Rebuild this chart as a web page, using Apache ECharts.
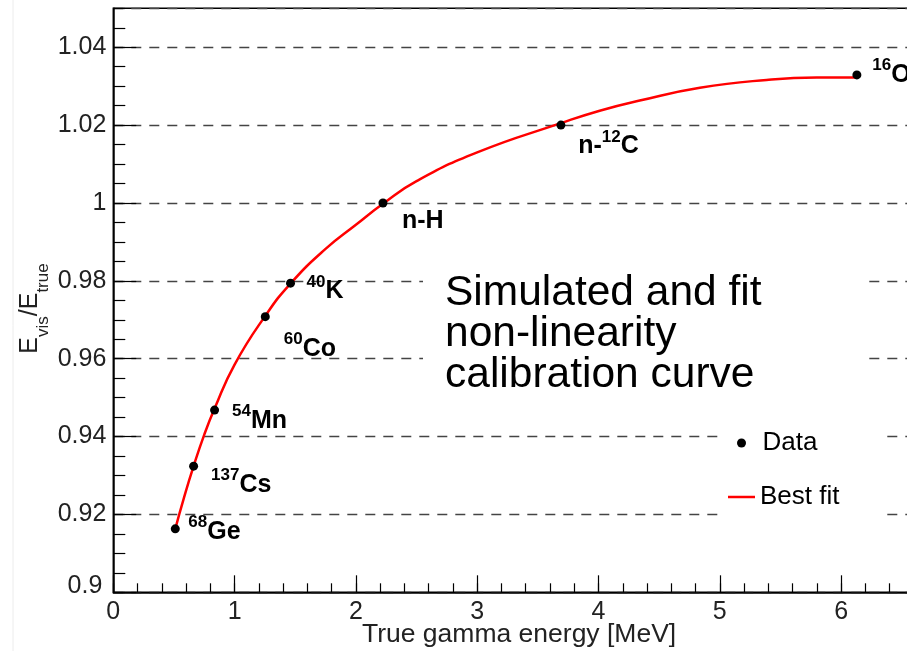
<!DOCTYPE html>
<html><head><meta charset="utf-8">
<script src="https://cdn.jsdelivr.net/npm/echarts@6/dist/echarts.min.js"></script>
<style>html,body{margin:0;padding:0;background:#fff}#c{width:907px;height:651px}</style>
</head><body><div id="c"></div>
<script>
// ---- data ----
const pointLabels = ['{s|68}{b|Ge}','{s|137}{b|Cs}','{s|54}{b|Mn}','{s|60}{b|Co}','{s|40}{b|K}','{b|n-H}','{b|n-}{s|12}{b|C}','{s|16}{b|O}'];
const energy = [0.511, 0.662, 0.835, 1.253, 1.461, 2.223, 3.69, 6.13];
const ratio  = [0.9163, 0.9324, 0.9468, 0.9708, 0.9794, 1.0000, 1.0200, 1.0329];
const fitEnergy = [0.511, 0.58, 0.66, 0.75, 0.835, 1.0, 1.253, 1.461, 1.75, 2.0, 2.223, 2.5, 3.0, 3.69, 4.01, 4.34, 4.836, 5.386, 5.799, 6.13];
const fitRatio  = [0.9163, 0.9240, 0.9322, 0.9405, 0.9472, 0.9585, 0.9710, 0.9793, 0.9882, 0.9944, 0.9998, 1.0056, 1.0130, 1.0205, 1.0237, 1.0263, 1.0296, 1.0316, 1.0322, 1.0322];
const xTicks = {min: 0, max: 7, major: 1, minor: 0.2};
const yTicks = {min: 0.9, max: 1.05, major: 0.02, minor: 0.005};
const legendNames = ['Data', 'Best fit'];
const xTitle = 'True gamma energy [MeV]';
const noteText = 'Simulated and fit\nnon-linearity\ncalibration curve';

// ---- presentation ----
const labelOffsets = [[8.5,3.3],[13,19],[13,11],[14,32],[11.5,8.4],[14.5,18],[12.8,21.5],[11,0]];
const FF = '"Liberation Sans", Arial, Helvetica, sans-serif';
const INK = '#000';

const chart = echarts.init(document.getElementById('c'), null, {renderer: 'canvas'});

const richLbl = {
  b: {fontSize: 25, fontWeight: 'bold', lineHeight: 36, fontFamily: FF, color: INK},
  s: {fontSize: 17, fontWeight: 'bold', lineHeight: 17, verticalAlign: 'top', fontFamily: FF, color: INK}
};

const scatterData = energy.map((e, i) => ({
  value: [e, ratio[i]],
  label: {formatter: pointLabels[i], offset: labelOffsets[i]}
}));
const fitData = fitEnergy.map((e, i) => [e, fitRatio[i]]);

const option = {
  animation: false,
  backgroundColor: '#fff',
  grid: {left: 113.3, top: 8.3, width: 849.1, height: 584, containLabel: false, outerBoundsMode: 'none',
         show: true, borderColor: '#000', borderWidth: 1.5, backgroundColor: 'transparent'},
  xAxis: [
    {type: 'value', min: xTicks.min, max: xTicks.max, interval: xTicks.major, position: 'bottom',
     axisLine: {show: true, lineStyle: {color: '#000', width: 1.5}},
     axisTick: {show: true, inside: true, length: 17, lineStyle: {color: '#000', width: 1.2}},
     axisLabel: {show: true, fontSize: 25, color: '#222', margin: 7, fontFamily: FF},
     splitLine: {show: false}},
    {type: 'value', min: xTicks.min, max: xTicks.max, interval: xTicks.minor, position: 'bottom',
     axisLine: {show: false},
     axisTick: {show: true, inside: true, length: 9, lineStyle: {color: '#000', width: 1.2}},
     axisLabel: {show: false}, splitLine: {show: false}}
  ],
  yAxis: [
    {type: 'value', min: yTicks.min, max: yTicks.max, interval: yTicks.major, position: 'left',
     axisLine: {show: true, lineStyle: {color: '#000', width: 1.5}},
     axisTick: {show: true, inside: true, length: 23, lineStyle: {color: '#000', width: 1.2}},
     axisLabel: {show: true, fontSize: 25, color: '#222', margin: 7, fontFamily: FF, showMaxLabel: false,
       formatter: v => (Math.abs(v - yTicks.min) < 1e-9 ? '{lo|' + v + '}' : String(v)),
       rich: {lo: {fontSize: 25, color: '#222', fontFamily: FF, padding: [0, 4, 12, 0]}}},
     splitLine: {show: true, lineStyle: {color: '#444', width: 1.4, type: [10, 8]}}},
    {type: 'value', min: yTicks.min, max: yTicks.max, interval: yTicks.minor, position: 'left',
     axisLine: {show: false},
     axisTick: {show: true, inside: true, length: 12, lineStyle: {color: '#000', width: 1.2}},
     axisLabel: {show: false}, splitLine: {show: false}}
  ],
  legend: [
    {data: [{name: legendNames[0], icon: 'circle', itemStyle: {color: '#000', opacity: 1}}], left: 737, top: 430, itemWidth: 32, itemHeight: 9, padding: 0,
     selectedMode: false, textStyle: {fontSize: 26, color: INK, fontFamily: FF}},
    {data: [{name: legendNames[1], icon: 'rect'}], left: 728, top: 484, itemWidth: 27, itemHeight: 2.5, padding: 0,
     selectedMode: false, textStyle: {fontSize: 26, color: INK, fontFamily: FF}}
  ],
  graphic: [
    {type: 'line', shape: {x1: 13, y1: 0, x2: 13, y2: 651}, style: {stroke: '#ececec', lineWidth: 1}, z: 0},
    {type: 'rect', shape: {x: 423, y: 262, width: 440, height: 135}, style: {fill: '#fff'}, z: 1},
    {type: 'rect', shape: {x: 722, y: 418, width: 158, height: 108}, style: {fill: '#fff'}, z: 1},
    {type: 'text', x: 445, y: 273, z: 5,
     style: {text: noteText, fontSize: 42.5, fontFamily: FF, lineHeight: 41, fill: INK, align: 'left', verticalAlign: 'top'}},
    {type: 'text', x: 362, y: 621, z: 5,
     style: {text: xTitle, fontSize: 26.5, fontFamily: FF, fill: '#222', align: 'left', verticalAlign: 'top'}},
    {type: 'text', x: 33, y: 308.5, rotation: Math.PI / 2, z: 5,
     style: {text: '{b|E}{s|vis}{b|/E}{s|true}', align: 'center', verticalAlign: 'middle', fill: '#222',
       rich: {
         b: {fontSize: 25, lineHeight: 30, verticalAlign: 'top', fontFamily: FF, fill: '#222', color: '#222'},
         s: {fontSize: 17, lineHeight: 17, padding: [17, 0, 0, 0], verticalAlign: 'top', fontFamily: FF, fill: '#222', color: '#222'}
       }}}
  ],
  series: [
    {name: legendNames[1], type: 'line', xAxisIndex: 0, yAxisIndex: 0, data: fitData,
     smooth: 0.5, showSymbol: false, symbol: 'none',
     lineStyle: {color: '#ff0000', width: 2.5}, itemStyle: {color: '#ff0000'}, z: 3},
    {name: legendNames[0], type: 'scatter', xAxisIndex: 0, yAxisIndex: 0, data: scatterData,
     symbol: 'circle', symbolSize: 9, itemStyle: {color: '#000', opacity: 1}, z: 4,
     label: {show: true, position: 'right', distance: 0, rich: richLbl, color: INK, opacity: 1}}
  ]
};
chart.setOption(option);
</script>
</body></html>
